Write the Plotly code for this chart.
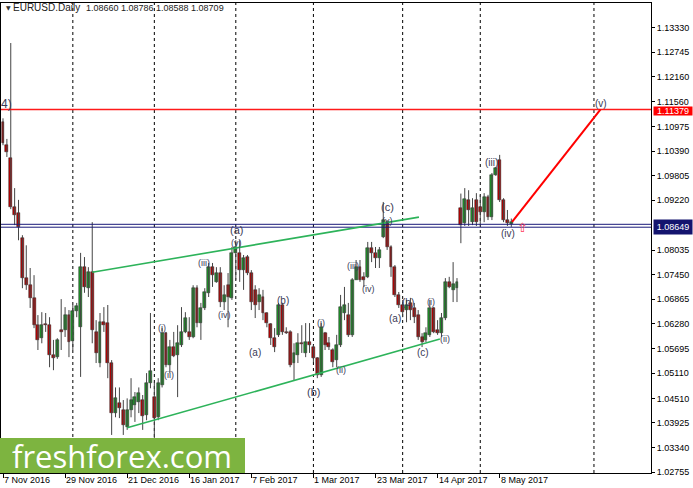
import plotly.graph_objects as go

# ---------------- data ----------------
tick_labels = ["7 Nov 2016", "29 Nov 2016", "21 Dec 2016", "16 Jan 2017", "7 Feb 2017",
               "1 Mar 2017", "23 Mar 2017", "14 Apr 2017", "8 May 2017"]
tick_bars = [0, 16, 32, 48, 64, 80, 96, 112, 128]
month_start_bars = [18, 39, 60, 80, 103, 123, 152.3]

ohlc = [
    (1.1108, 1.1117, 1.1053, 1.1058), (1.1053, 1.1068, 1.1025, 1.1037), (1.1023, 1.1296, 1.0901, 1.0906),
    (1.0906, 1.0951, 1.0863, 1.0887), (1.0892, 1.0923, 1.0827, 1.0858), (1.0832, 1.0839, 1.0713, 1.0737),
    (1.0737, 1.0815, 1.0709, 1.0720), (1.0720, 1.0761, 1.0666, 1.0690), (1.0690, 1.0744, 1.0618, 1.0625),
    (1.0625, 1.0649, 1.0566, 1.0590), (1.0594, 1.0656, 1.0582, 1.0625), (1.0629, 1.0654, 1.0609, 1.0626),
    (1.0625, 1.0644, 1.0525, 1.0554), (1.0554, 1.0590, 1.0518, 1.0547), (1.0549, 1.0594, 1.0545, 1.0590),
    (1.0613, 1.0687, 1.0566, 1.0610), (1.0613, 1.0668, 1.0597, 1.0649), (1.0649, 1.0661, 1.0549, 1.0585),
    (1.0587, 1.0673, 1.0566, 1.0659), (1.0659, 1.0678, 1.0644, 1.0671), (1.0620, 1.0797, 1.0502, 1.0763),
    (1.0763, 1.0787, 1.0702, 1.0716), (1.0713, 1.0763, 1.0692, 1.0751), (1.0751, 1.0870, 1.0582, 1.0613),
    (1.0609, 1.0637, 1.0535, 1.0559), (1.0535, 1.0654, 1.0525, 1.0632), (1.0632, 1.0668, 1.0609, 1.0625),
    (1.0630, 1.0673, 1.0499, 1.0535), (1.0535, 1.0542, 1.0364, 1.0416), (1.0416, 1.0477, 1.0406, 1.0451),
    (1.0440, 1.0477, 1.0404, 1.0428), (1.0423, 1.0447, 1.0364, 1.0388), (1.0383, 1.0451, 1.0376, 1.0423),
    (1.0423, 1.0499, 1.0406, 1.0447), (1.0435, 1.0466, 1.0395, 1.0454), (1.0442, 1.0477, 1.0416, 1.0463),
    (1.0447, 1.0459, 1.0376, 1.0409), (1.0411, 1.0511, 1.0399, 1.0487), (1.0487, 1.0654, 1.0475, 1.0516),
    (1.0454, 1.0489, 1.0350, 1.0404), (1.0406, 1.0499, 1.0399, 1.0487), (1.0482, 1.0618, 1.0477, 1.0606),
    (1.0606, 1.0609, 1.0525, 1.0530), (1.0530, 1.0590, 1.0511, 1.0573), (1.0573, 1.0609, 1.0549, 1.0552),
    (1.0554, 1.0625, 1.0454, 1.0582), (1.0578, 1.0668, 1.0573, 1.0609), (1.0609, 1.0656, 1.0606, 1.0642),
    (1.0609, 1.0644, 1.0590, 1.0597), (1.0597, 1.0720, 1.0594, 1.0713), (1.0713, 1.0720, 1.0620, 1.0630),
    (1.0630, 1.0678, 1.0590, 1.0666), (1.0666, 1.0713, 1.0661, 1.0704), (1.0702, 1.0773, 1.0692, 1.0763),
    (1.0763, 1.0773, 1.0716, 1.0744), (1.0728, 1.0763, 1.0726, 1.0749), (1.0749, 1.0763, 1.0668, 1.0680),
    (1.0680, 1.0720, 1.0661, 1.0697), (1.0720, 1.0749, 1.0620, 1.0692), (1.0690, 1.0811, 1.0685, 1.0797),
    (1.0797, 1.0827, 1.0733, 1.0811), (1.0797, 1.0827, 1.0728, 1.0756), (1.0756, 1.0792, 1.0709, 1.0785),
    (1.0787, 1.0792, 1.0744, 1.0749), (1.0749, 1.0756, 1.0661, 1.0680), (1.0709, 1.0720, 1.0642, 1.0673),
    (1.0680, 1.0713, 1.0661, 1.0697), (1.0692, 1.0709, 1.0637, 1.0654), (1.0654, 1.0656, 1.0620, 1.0630),
    (1.0628, 1.0630, 1.0578, 1.0594), (1.0594, 1.0618, 1.0561, 1.0573), (1.0602, 1.0678, 1.0597, 1.0673),
    (1.0673, 1.0678, 1.0602, 1.0609), (1.0609, 1.0620, 1.0604, 1.0606), (1.0609, 1.0613, 1.0525, 1.0530),
    (1.0535, 1.0582, 1.0494, 1.0559), (1.0554, 1.0606, 1.0535, 1.0582), (1.0582, 1.0625, 1.0559, 1.0580),
    (1.0559, 1.0630, 1.0549, 1.0585), (1.0585, 1.0630, 1.0559, 1.0578), (1.0573, 1.0578, 1.0537, 1.0547),
    (1.0547, 1.0549, 1.0499, 1.0506), (1.0506, 1.0630, 1.0502, 1.0620), (1.0606, 1.0609, 1.0566, 1.0578),
    (1.0582, 1.0597, 1.0566, 1.0573), (1.0566, 1.0570, 1.0525, 1.0537), (1.0542, 1.0602, 1.0525, 1.0578),
    (1.0578, 1.0697, 1.0573, 1.0668), (1.0654, 1.0716, 1.0637, 1.0673), (1.0649, 1.0678, 1.0597, 1.0602),
    (1.0602, 1.0737, 1.0597, 1.0733), (1.0733, 1.0780, 1.0733, 1.0763), (1.0763, 1.0780, 1.0728, 1.0733),
    (1.0740, 1.0751, 1.0716, 1.0733), (1.0740, 1.0823, 1.0737, 1.0809), (1.0809, 1.0823, 1.0775, 1.0797),
    (1.0797, 1.0811, 1.0761, 1.0785), (1.0785, 1.0811, 1.0761, 1.0804), (1.0834, 1.0918, 1.0832, 1.0875),
    (1.0870, 1.0875, 1.0804, 1.0811), (1.0811, 1.0815, 1.0740, 1.0763), (1.0763, 1.0768, 1.0692, 1.0697),
    (1.0697, 1.0704, 1.0666, 1.0673), (1.0673, 1.0685, 1.0644, 1.0656), (1.0661, 1.0685, 1.0632, 1.0673),
    (1.0678, 1.0690, 1.0637, 1.0661), (1.0666, 1.0678, 1.0630, 1.0644), (1.0649, 1.0661, 1.0590, 1.0597),
    (1.0597, 1.0606, 1.0573, 1.0585), (1.0590, 1.0620, 1.0585, 1.0606), (1.0602, 1.0685, 1.0597, 1.0666),
    (1.0666, 1.0668, 1.0606, 1.0609), (1.0613, 1.0637, 1.0602, 1.0606), (1.0606, 1.0654, 1.0597, 1.0642),
    (1.0642, 1.0737, 1.0637, 1.0728), (1.0728, 1.0740, 1.0713, 1.0716), (1.0709, 1.0775, 1.0680, 1.0723),
    (1.0713, 1.0737, 1.0680, 1.0728), (1.0903, 1.0938, 1.0820, 1.0863), (1.0868, 1.0951, 1.0861, 1.0925),
    (1.0923, 1.0946, 1.0861, 1.0899), (1.0870, 1.0927, 1.0863, 1.0903), (1.0923, 1.0939, 1.0861, 1.0870),
    (1.0906, 1.0935, 1.0863, 1.0894), (1.0894, 1.0939, 1.0870, 1.0930), (1.0930, 1.0935, 1.0875, 1.0882),
    (1.0882, 1.0987, 1.0875, 1.0982), (1.0982, 1.1001, 1.0980, 1.0999), (1.1018, 1.1030, 1.0918, 1.0923),
    (1.0923, 1.0927, 1.0870, 1.0876), (1.0875, 1.0899, 1.0861, 1.0868), (1.08660, 1.08786, 1.08588, 1.08709),
]
opens = [c[0] for c in ohlc]
highs = [c[1] for c in ohlc]
lows = [c[2] for c in ohlc]
closes = [c[3] for c in ohlc]

price_ticks = [1.13330, 1.12745, 1.12160, 1.11560, 1.10975, 1.10390, 1.09805, 1.09220,
               1.08035, 1.07450, 1.06865, 1.06280, 1.05695, 1.05110, 1.04510, 1.03925, 1.03340, 1.02755]
price_tick_text = ["%.5f" % v for v in price_ticks]

target_level = 1.11379
support_levels = [1.08649, 1.0858]

upper_channel = [(23, 1.0751), (107.2, 1.0882)]
lower_channel = [(32, 1.0381), (112.6, 1.0592)]
projection = [(131.2, 1.08709), (154, 1.1138)]

wave_labels = [
    (0.9, 1.1150, "4)", 12), (60.05, 1.0851, "(a)", 11), (60.05, 1.0820, "(v)", 9),
    (51.8, 1.0773, "(iii)", 9), (57.0, 1.0649, "(iv)", 9), (41.0, 1.0618, "(i)", 9),
    (42.8, 1.0506, "(ii)", 9), (65.0, 1.0559, "(a)", 10), (72.2, 1.0683, "(b)", 10),
    (79.9, 1.0466, "(b)", 11), (82.0, 1.0630, "(i)", 9), (87.1, 1.0518, "(ii)", 9),
    (90.2, 1.0766, "(iii)", 9), (94.1, 1.0711, "(iv)", 9), (99.0, 1.0906, "(c)", 11),
    (99.2, 1.0873, "(v)", 9), (101.0, 1.0640, "(a)", 10), (104.4, 1.0680, "(b)", 10),
    (108.2, 1.0561, "(c)", 10), (110.3, 1.0680, "(i)", 9), (113.9, 1.0592, "(ii)", 9),
    (126.0, 1.1013, "(iii)", 10), (130.2, 1.0844, "(iv)", 10), (154.1, 1.1153, "(v)", 10),
]

symbol_title = "EURUSD.Daily"
last_bar = "1.08660 1.08786 1.08588 1.08709"

# ---------------- figure ----------------
W, H = 693, 488
ML, MR, MT, MB = 1, 42, 3, 15
PW, PH = W - ML - MR, H - MT - MB
X0, X1 = -0.515, 167.0


def px_x(px):
    return (px - ML) / PW


def px_y(py):
    return (H - MB - py) / PH


n = len(ohlc)
idx = list(range(n))

wx, wy = [], []
for i in idx:
    wx += [i, i, None]
    wy += [lows[i], highs[i], None]

bases, heights, cols = [], [], []
for o, c in zip(opens, closes):
    lo, hi = min(o, c), max(o, c)
    h = max(hi - lo, 0.00005)
    bases.append(lo)
    heights.append(h)
    cols.append("#1f9a2a" if c >= o else "#c00000")

fig = go.Figure()
fig.add_trace(go.Scatter(x=wx, y=wy, mode="lines", line=dict(color="#444444", width=1),
                         hoverinfo="skip", showlegend=False))
fig.add_trace(go.Bar(x=idx, y=heights, base=bases, width=0.75,
                     marker=dict(color=cols, line=dict(color="#1a1a1a", width=0.5)),
                     showlegend=False))
for lv in support_levels:
    fig.add_trace(go.Scatter(x=[X0, X1], y=[lv, lv], mode="lines",
                             line=dict(color="#1a1a7a", width=1), hoverinfo="skip", showlegend=False))
fig.add_trace(go.Scatter(x=[X0, X1], y=[target_level, target_level], mode="lines",
                         line=dict(color="#ff1a1a", width=1.3), hoverinfo="skip", showlegend=False))

shapes = []
for b in month_start_bars:
    shapes.append(dict(type="line", xref="x", yref="paper", x0=b, x1=b, y0=0, y1=1,
                       line=dict(color="black", width=1, dash="dot"), layer="below"))
for seg, colr, wd in [(upper_channel, "#2db35a", 1.6), (lower_channel, "#2db35a", 1.6), (projection, "#ff0000", 2)]:
    shapes.append(dict(type="line", xref="x", yref="y", x0=seg[0][0], y0=seg[0][1],
                       x1=seg[1][0], y1=seg[1][1], line=dict(color=colr, width=wd)))
# logo box
shapes.append(dict(type="rect", xref="paper", yref="paper", x0=px_x(0), x1=px_x(245),
                   y0=px_y(473), y1=px_y(438), fillcolor="#7db440", line=dict(width=0), layer="above"))

ann = []
FONT = "Liberation Sans, Arial, sans-serif"
for x, y, t, s in wave_labels:
    ann.append(dict(x=x, y=y, xref="x", yref="y", text=t, showarrow=False,
                    font=dict(family=FONT, size=s, color="#3a3a55")))
for b, t in zip(tick_bars, tick_labels):
    ann.append(dict(x=b, y=px_y(480), xref="x", yref="paper", text=t, showarrow=False,
                    xanchor="left", yanchor="middle", xshift=-1,
                    font=dict(family=FONT, size=9, color="black")))
ann.append(dict(x=px_x(653), y=target_level, xref="paper", yref="y", text="1.11379", showarrow=False,
                xanchor="left", yanchor="middle", yshift=-1, bgcolor="#ff0000", borderpad=0, width=38, height=8,
                font=dict(family=FONT, size=9, color="white")))
ann.append(dict(x=px_x(653), y=support_levels[0], xref="paper", yref="y", text="1.08649", showarrow=False,
                xanchor="left", yanchor="top", yshift=5, bgcolor="#14146e", borderpad=0, width=38, height=14,
                font=dict(family=FONT, size=9, color="white")))
ann.append(dict(x=px_x(4), y=px_y(8), xref="paper", yref="paper", text="▼", showarrow=False,
                xanchor="left", yanchor="middle", font=dict(family="DejaVu Sans", size=6, color="#333")))
ann.append(dict(x=px_x(11), y=px_y(8), xref="paper", yref="paper", text=symbol_title, showarrow=False,
                xanchor="left", yanchor="middle", font=dict(family=FONT, size=10, color="#222")))
ann.append(dict(x=px_x(84), y=px_y(8), xref="paper", yref="paper", text=last_bar, showarrow=False,
                xanchor="left", yanchor="middle", font=dict(family=FONT, size=9, color="#222")))
ann.append(dict(x=134.0, y=1.0858, xref="x", yref="y", text="⇧", showarrow=False,
                font=dict(family="DejaVu Sans", size=13, color="#ff4060")))
ann.append(dict(x=px_x(122), y=px_y(456), xref="paper", yref="paper", text="freshforex.com", showarrow=False,
                xanchor="center", yanchor="middle", height=30, valign="middle",
                font=dict(family="Open Sans", size=31, color="white")))

fig.update_layout(
    width=W, height=H, margin=dict(l=ML, r=MR, t=MT, b=MB),
    paper_bgcolor="white", plot_bgcolor="white", shapes=shapes, annotations=ann,
    bargap=0, showlegend=False,
    xaxis=dict(range=[X0, X1], showgrid=False, zeroline=False, tickmode="array",
               tickvals=tick_bars, showticklabels=False, ticks="outside", ticklen=4,
               tickcolor="black", showline=True, linecolor="black", linewidth=1, mirror=True),
    yaxis=dict(range=[1.02735, 1.13912], side="right", showgrid=False, zeroline=False,
               tickmode="array", tickvals=price_ticks, ticktext=price_tick_text,
               ticks="outside", ticklen=3, tickcolor="black",
               tickfont=dict(family=FONT, size=9, color="black"),
               showline=True, linecolor="black", linewidth=1, mirror=True),
)
fig.write_html("out.html", config={"displayModeBar": False},
               post_script="document.body.style.margin='0';document.body.style.padding='0';")
